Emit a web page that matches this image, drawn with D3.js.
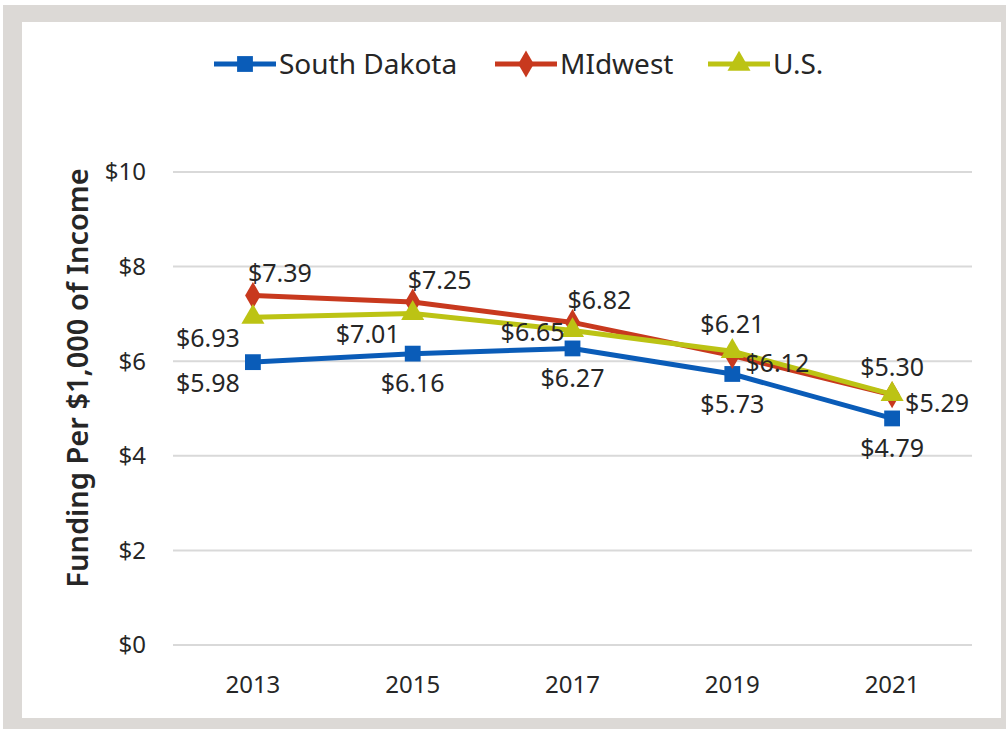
<!DOCTYPE html>
<html>
<head>
<meta charset="utf-8">
<script src="https://cdn.jsdelivr.net/npm/d3@7"></script>
<style>
  body { margin: 0; background: #fff; }
  text { font-family: "Noto Sans", sans-serif; fill: #262626; }
</style>
</head>
<body>
<svg id="chart" width="1006" height="729"></svg>
<script>
const years = ["2013", "2015", "2017", "2019", "2021"];
const southDakota = [5.98, 6.16, 6.27, 5.73, 4.79];
const midwest = [7.39, 7.25, 6.82, 6.12, 5.29];
const us = [6.93, 7.01, 6.65, 6.21, 5.30];
const yTicks = [0, 2, 4, 6, 8, 10];

const series = [
  { name: "South Dakota", values: southDakota, color: "#0a5cb8", symbol: d3.symbolSquare, size: 250,
    labels: ["leftBelow", "below", "below", "below", "below"] },
  { name: "MIdwest", values: midwest, color: "#c8391e", symbol: d3.symbolDiamond, size: 210,
    labels: ["aboveRight", "aboveRight", "aboveRight", "right", "right"] },
  { name: "U.S.", values: us, color: "#bcc314", symbol: d3.symbolTriangle, size: 230,
    labels: ["leftBelow", "leftBelow", "left", "above", "above"] }
];

const svg = d3.select("#chart");

// frame
svg.append("rect").attr("x", 3).attr("y", 5).attr("width", 1003).attr("height", 724).attr("fill", "#dcd9d6");
svg.append("rect").attr("x", 22).attr("y", 22).attr("width", 979).attr("height", 696).attr("fill", "#fff");

const margin = { left: 173, right: 34, top: 172, bottom: 84 };
const x = d3.scaleBand().domain(years).range([margin.left, 1006 - margin.right]);
const y = d3.scaleLinear().domain([0, 10]).range([729 - margin.bottom, margin.top]);
const cx = d => x(d) + x.bandwidth() / 2;

// grid
svg.append("g").selectAll("line").data(yTicks).enter().append("line")
  .attr("x1", margin.left).attr("x2", 1006 - margin.right)
  .attr("y1", d => y(d)).attr("y2", d => y(d))
  .attr("stroke", "#d9d9d9").attr("stroke-width", 2);

// y tick labels
svg.append("g").selectAll("text").data(yTicks).enter().append("text")
  .attr("x", 146).attr("y", d => y(d)).attr("dy", "0.35em")
  .attr("text-anchor", "end").attr("font-size", 24)
  .text(d => "$" + d);

// x tick labels
svg.append("g").selectAll("text").data(years).enter().append("text")
  .attr("x", d => cx(d)).attr("y", 693)
  .attr("text-anchor", "middle").attr("font-size", 24)
  .text(d => d);

// y axis title
svg.append("text")
  .attr("transform", `translate(88, 378) rotate(-90)`)
  .attr("text-anchor", "middle").attr("font-size", 29).attr("font-weight", 600)
  .text("Funding Per $1,000 of Income");

const line = d3.line().x((d, i) => cx(years[i])).y(d => y(d));

series.forEach(s => {
  svg.append("path").datum(s.values)
    .attr("d", line).attr("fill", "none")
    .attr("stroke", s.color).attr("stroke-width", 5).attr("stroke-linejoin", "round");
  svg.append("g").selectAll("path").data(s.values).enter().append("path")
    .attr("d", d3.symbol().type(s.symbol).size(s.size))
    .attr("transform", (d, i) => `translate(${cx(years[i])},${y(d)})`)
    .attr("fill", s.color);
});

// data labels
const offsets = {
  below: [0, 30, "middle"],
  leftBelow: [-13, 21, "end"],
  left: [-8, 2, "end"],
  above: [0, -27, "middle"],
  aboveRight: [-5, -22, "start"],
  right: [13, 8, "start"]
};
series.forEach(s => {
  svg.append("g").selectAll("text").data(s.values).enter().append("text")
    .attr("x", (d, i) => cx(years[i]) + offsets[s.labels[i]][0])
    .attr("y", (d, i) => y(d) + offsets[s.labels[i]][1])
    .attr("dy", "0.35em")
    .attr("text-anchor", (d, i) => offsets[s.labels[i]][2])
    .attr("font-size", 25)
    .text(d => "$" + d.toFixed(2));
});

// legend
const legendX = [214, 495, 708];
const legend = svg.append("g").selectAll("g").data(series).enter().append("g")
  .attr("transform", (d, i) => `translate(${legendX[i]}, 64)`);
legend.append("line").attr("x1", 0).attr("x2", 62)
  .attr("stroke", d => d.color).attr("stroke-width", 5);
legend.append("path")
  .attr("d", d => d3.symbol().type(d.symbol).size(d.size)())
  .attr("transform", "translate(31,0)")
  .attr("fill", d => d.color);
legend.append("text").attr("x", 65).attr("dy", "0.35em")
  .attr("font-size", 28).text(d => d.name);
</script>
</body>
</html>
